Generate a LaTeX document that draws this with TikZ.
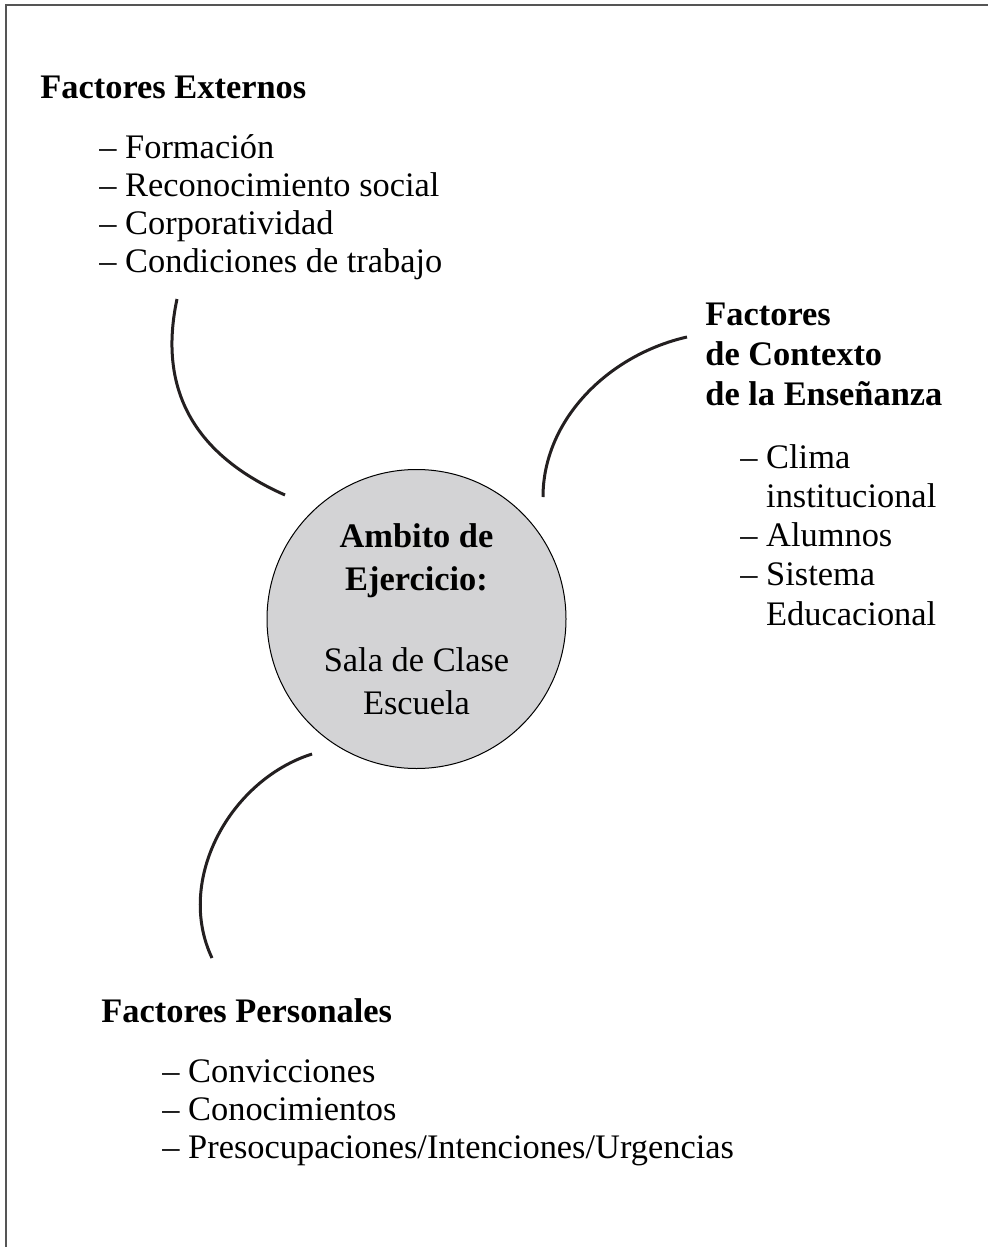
\documentclass[tikz,border=0pt]{standalone}
\usepackage{fontspec}
\setmainfont{Liberation Serif}
\usepackage{tikz}
\usetikzlibrary{positioning}

\definecolor{hubgray}{RGB}{211,211,213}
\definecolor{inkline}{RGB}{35,31,32}
\definecolor{framegray}{RGB}{85,85,85}

\begin{document}
\begin{tikzpicture}[
  x=0.5pt, y=-0.5pt,
  head/.style={anchor=base west, inner sep=0pt, align=left, font=\fontsize{17.2}{20}\selectfont\bfseries},
  items/.style={anchor=base west, inner sep=0pt, align=left, font=\fontsize{17.2}{19}\selectfont},
  hub/.style={circle, draw, line width=0.5pt, fill=hubgray, minimum size=149.5pt, inner sep=0pt, align=center, font=\fontsize{17.2}{21.5}\selectfont},
  link/.style={draw=inkline, line width=1.5pt}
]
\useasboundingbox (0,0) rectangle (988,1247);
\draw[framegray, line width=1pt] (1000,5) -- (6,5) -- (6,1260);

% centre (multi-line nodes sit on their last baseline)
\node[hub] (amb) at (416.5,619) {\textbf{Ambito de}\\\textbf{Ejercicio:}\\[19pt]Sala de Clase\\Escuela};

% external factors
\node[head] (ext) at (40,98) {Factores Externos};
\node[items] (ext-list) at (99,272) {– Formación\\– Reconocimiento social\\– Corporatividad\\– Condiciones de trabajo};

% context factors
\node[head] (ctx) at (705,405) {Factores\\de Contexto\\de la Enseñanza};
\node[items, font=\fontsize{17.2}{19.6}\selectfont] (ctx-list) at (740,625) {– Clima\\\phantom{–\ }institucional\\– Alumnos\\– Sistema\\\phantom{–\ }Educacional};

% personal factors
\node[head] (per) at (101,1022) {Factores Personales};
\node[items] (per-list) at (162,1158) {– Convicciones\\– Conocimientos\\– Presocupaciones/Intenciones/Urgencias};

% connectors
\coordinate (ext-a) at (177,299);
\coordinate (ext-b) at (285,495);
\coordinate (ctx-a) at (543,497);
\coordinate (ctx-b) at (687,337);
\coordinate (per-a) at (312,754);
\coordinate (per-b) at (212,958);
\draw[link] (ext-a) .. controls (163,365) and (172,445) .. (ext-b);
\draw[link] (ctx-a) .. controls (543,420) and (608,355) .. (ctx-b);
\draw[link] (per-a) .. controls (230,780) and (175,880) .. (per-b);
\end{tikzpicture}
\end{document}
